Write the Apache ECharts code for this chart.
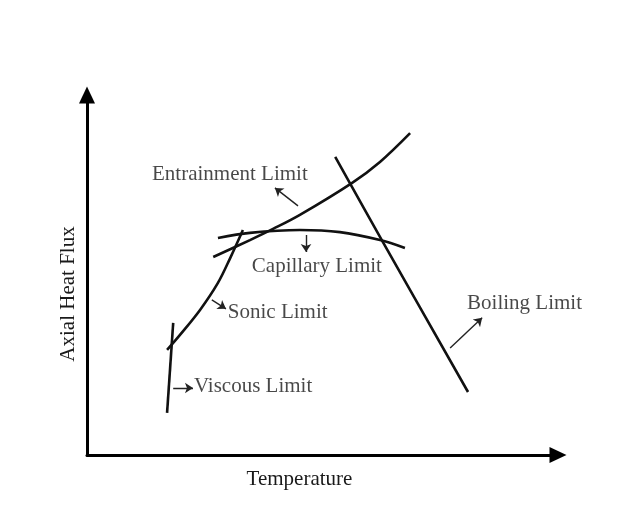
<!DOCTYPE html>
<html>
<head>
<meta charset="utf-8">
<script src="https://cdn.jsdelivr.net/npm/echarts@6/dist/echarts.min.js"></script>
<style>
  html, body { margin: 0; padding: 0; background: #ffffff; }
  #chart { width: 624px; height: 515px; }
</style>
</head>
<body>
<div id="chart"></div>
<script>
// Operating limits of a heat pipe (schematic, normalised 0-100 units)
const viscousLimit     = [[17.0, 11.7], [18.3, 36.7]];
const sonicLimit       = [[17.0, 29.2], [19.7, 33.3], [24.0, 40.3], [27.8, 47.8], [30.4, 54.7], [33.1, 62.5]];
const entrainmentLimit = [[26.8, 55.0], [34.6, 59.7], [39.5, 62.8], [45.2, 66.7], [56.3, 75.6], [62.2, 81.4], [68.6, 89.4]];
const capillaryLimit   = [[27.8, 60.3], [34.6, 61.7], [45.2, 62.5], [53.7, 61.9], [62.2, 59.7], [67.5, 57.5]];
const boilingLimit     = [[52.7, 82.8], [62.8, 59.2], [80.9, 17.5]];

// Pointer arrows: [from, to]
const pointerArrows = [
  [[44.8, 69.2], [39.9, 74.2]],   // entrainment
  [[46.5, 61.1], [46.5, 56.4]],   // capillary
  [[26.5, 43.1], [29.5, 40.6]],   // sonic
  [[18.3, 18.6], [22.5, 18.6]],   // viscous
  [[77.1, 29.7], [83.9, 38.1]]    // boiling
];

// Label anchors (left edge, vertical centre) and texts
const labelTexts = ['Entrainment Limit', 'Capillary Limit', 'Sonic Limit', 'Viscous Limit', 'Boiling Limit'];
const labelAnchors = [[13.8, 78.0], [35.0, 52.5], [29.9, 39.5], [22.7, 18.9], [80.7, 42.2]];

const axisTitleX = 'Temperature';
const axisTitleY = 'Axial Heat Flux';

const FONT = '"Liberation Serif", "DejaVu Serif", serif';
const TEXT_COLOR = '#1a1a1a';
const FONT_SIZE = 21;

const curveStyle = { color: '#111111', width: 2.6 };
function curve(name, data) {
  return {
    name, type: 'line', data, smooth: 0.35, showSymbol: false, silent: true,
    lineStyle: curveStyle, z: 3
  };
}

const axisLineStyle = {
  show: true, onZero: false,
  symbol: ['none', 'triangle'], symbolSize: [16, 17], symbolOffset: [0, 0],
  lineStyle: { color: '#000000', width: 3 }
};

const chart = echarts.init(document.getElementById('chart'), null, { renderer: 'canvas' });

const option = {
  backgroundColor: '#ffffff',
  animation: false,
  grid: { left: 87, right: 66, top: 95, bottom: 60 },
  xAxis: {
    type: 'value', min: 0, max: 100,
    name: axisTitleX, nameLocation: 'middle', nameGap: 14,
    nameTextStyle: { fontFamily: FONT, fontSize: FONT_SIZE, color: TEXT_COLOR, padding: [0, 46, 0, 0] },
    axisLine: axisLineStyle,
    axisTick: { show: false }, axisLabel: { show: false }, splitLine: { show: false }
  },
  yAxis: {
    type: 'value', min: 0, max: 100,
    name: axisTitleY, nameLocation: 'middle', nameGap: 8, nameRotate: 90,
    nameTextStyle: { fontFamily: FONT, fontSize: FONT_SIZE, color: TEXT_COLOR, padding: [0, 38, 0, 0] },
    axisLine: axisLineStyle,
    axisTick: { show: false }, axisLabel: { show: false }, splitLine: { show: false }
  },
  series: [
    curve('Viscous Limit', viscousLimit),
    curve('Sonic Limit', sonicLimit),
    curve('Entrainment Limit', entrainmentLimit),
    curve('Capillary Limit', capillaryLimit),
    curve('Boiling Limit', boilingLimit),
    {
      name: 'pointers', type: 'lines', coordinateSystem: 'cartesian2d', silent: true,
      symbol: ['none', 'arrow'], symbolSize: 8,
      lineStyle: { color: '#222222', width: 1.4, opacity: 1 },
      data: pointerArrows.map(a => ({ coords: a })), z: 4
    },
    {
      name: 'labels', type: 'scatter', symbolSize: 0, silent: true,
      data: labelAnchors.map((p, i) => ({ value: p, name: labelTexts[i] })),
      label: {
        show: true, position: [0, 0], align: 'left', verticalAlign: 'middle',
        formatter: p => p.name,
        fontFamily: FONT, fontSize: FONT_SIZE, color: TEXT_COLOR
      },
      z: 5
    }
  ]
};

chart.setOption(option);
</script>
</body>
</html>
